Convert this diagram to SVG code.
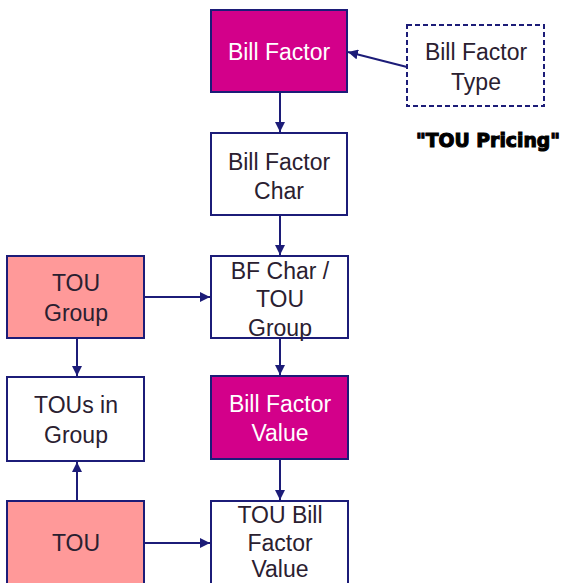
<svg xmlns="http://www.w3.org/2000/svg" width="568" height="583" viewBox="0 0 568 583">
<defs>
<style>
.box{stroke:#1c1c78;stroke-width:2}
.w{fill:#ffffff}
.m{fill:#d3008a}
.p{fill:#ff9999}
.d{fill:#ffffff;stroke-dasharray:5,3}
text{font-family:"Liberation Sans",Arial,sans-serif;font-size:23px;text-anchor:middle}
.dk{fill:#2a2030}
.lt{fill:#ffffff}
.c{stroke:#1c1c78;stroke-width:2;fill:none;marker-end:url(#ah)}
</style>
<marker id="ah" viewBox="0 0 10 10" refX="10" refY="5" markerWidth="5" markerHeight="5" orient="auto" markerUnits="strokeWidth">
<path d="M0,0 L10,5 L0,10 z" fill="#1c1c78"/>
</marker>
</defs>
<rect width="568" height="583" fill="#ffffff"/>
<g id="connectors">
<path class="c" d="M407,67 L348,52"/>
<path class="c" d="M280,92 L280,132"/>
<path class="c" d="M280,215 L280,255"/>
<path class="c" d="M144,297 L210,297"/>
<path class="c" d="M77,338 L77,376"/>
<path class="c" d="M77,501 L77,462"/>
<path class="c" d="M280,338 L280,375"/>
<path class="c" d="M280,459 L280,500"/>
<path class="c" d="M144,543 L210,543"/>
</g>
<g id="bill-factor">
<rect class="box m" x="211" y="10" width="136" height="82"/>
<text class="lt" x="279" y="60">Bill Factor</text>
</g>
<g id="bill-factor-type">
<rect class="box d" x="407" y="25" width="137" height="81"/>
<text class="dk" x="476" y="60">Bill Factor</text>
<text class="dk" x="476" y="90">Type</text>
</g>
<g id="tou-pricing-label">
<text x="488" y="147" style="font-family:'DejaVu Sans',sans-serif;font-weight:900;font-size:19px;fill:#000;stroke:#000;stroke-width:1.1" textLength="144" lengthAdjust="spacingAndGlyphs">"TOU Pricing"</text>
</g>
<g id="bill-factor-char">
<rect class="box w" x="211" y="133" width="136" height="82"/>
<text class="dk" x="279" y="170">Bill Factor</text>
<text class="dk" x="279" y="199">Char</text>
</g>
<g id="bf-char-tou-group">
<rect class="box w" x="211" y="256" width="137" height="82"/>
<text class="dk" x="280" y="279">BF Char /</text>
<text class="dk" x="280" y="307">TOU</text>
<text class="dk" x="280" y="336">Group</text>
</g>
<g id="tou-group">
<rect class="box p" x="7" y="256" width="137" height="82"/>
<text class="dk" x="76" y="291">TOU</text>
<text class="dk" x="76" y="321">Group</text>
</g>
<g id="tous-in-group">
<rect class="box w" x="7" y="377" width="137" height="84"/>
<text class="dk" x="76" y="413">TOUs in</text>
<text class="dk" x="76" y="443">Group</text>
</g>
<g id="bill-factor-value">
<rect class="box m" x="211" y="376" width="137" height="83"/>
<text class="lt" x="280" y="412">Bill Factor</text>
<text class="lt" x="280" y="441">Value</text>
</g>
<g id="tou">
<rect class="box p" x="7" y="501" width="137" height="90"/>
<text class="dk" x="76" y="551">TOU</text>
</g>
<g id="tou-bill-factor-value">
<rect class="box w" x="211" y="501" width="137" height="90"/>
<text class="dk" x="280" y="523">TOU Bill</text>
<text class="dk" x="280" y="551">Factor</text>
<text class="dk" x="280" y="577">Value</text>
</g>
</svg>
